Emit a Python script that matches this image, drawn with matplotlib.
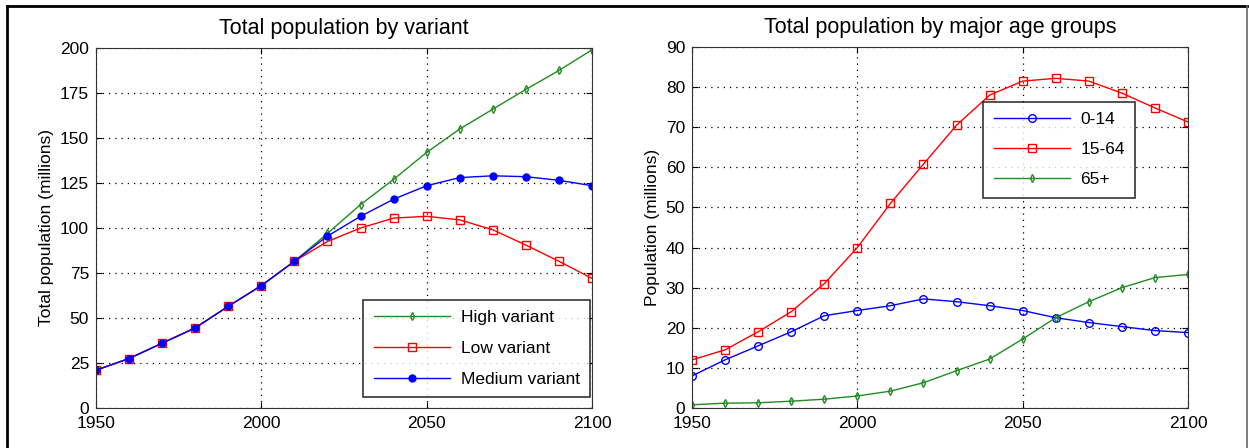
import matplotlib
matplotlib.use("Agg")
import matplotlib.pyplot as plt
from matplotlib.lines import Line2D

plt.rcParams.update({'font.size': 12.5, 'font.family': ['Liberation Sans', 'DejaVu Sans']})

years = [1950, 1960, 1970, 1980, 1990, 2000, 2010, 2020, 2030,
         2040, 2050, 2060, 2070, 2080, 2090, 2100]

# total population by variant (millions)
high_variant = [21, 27.5, 36, 44.5, 56.5, 68, 81.5, 97, 113,
                127, 142, 155, 166, 177, 187.5, 199]
low_variant = [21, 27.5, 36, 44.5, 56.5, 68, 81.5, 92.5, 100,
               105.5, 106.5, 104.5, 99, 90.5, 81.5, 72]
medium_variant = [21, 27.5, 36, 44.5, 56.5, 68, 81.5, 95.5, 106.5,
                  116, 123.5, 128, 129, 128.5, 126.5, 123.5]

# population by major age groups (millions)
age_0_14 = [8, 12, 15.5, 19, 23, 24.3, 25.5, 27.2, 26.5,
            25.5, 24.3, 22.5, 21.3, 20.3, 19.3, 18.8]
age_15_64 = [12, 14.5, 19, 24, 31, 40, 51, 60.8, 70.5,
             78, 81.5, 82.2, 81.5, 78.5, 74.8, 71.3]
age_65_plus = [0.8, 1.2, 1.3, 1.7, 2.2, 3, 4.2, 6.3, 9.3,
               12.2, 17.2, 22.5, 26.5, 30, 32.5, 33.3]

W, H = 1249, 448
fig = plt.figure(figsize=(W / 100, H / 100), dpi=100)

ax1 = fig.add_axes([96 / W, 1 - 408 / H, 496 / W, 360 / H])
ax2 = fig.add_axes([692 / W, 1 - 408 / H, 496 / W, 361 / H])

green = '#228B22'

ax1.plot(years, high_variant, color=green, lw=1, marker='d', ms=4,
         mfc='none', mec=green, label='High variant')
ax1.plot(years, low_variant, color='red', lw=1, marker='s', ms=6,
         mfc='none', mec='red', label='Low variant')
ax1.plot(years, medium_variant, color='blue', lw=1, marker='o', ms=5,
         mfc='blue', mec='blue', label='Medium variant')
ax1.set_ylim(0, 200)
ax1.set_yticks(range(0, 201, 25))
ax1.set_ylabel('Total population (millions)')
ax1.set_title('Total population by variant', fontsize=15.5, pad=10)
leg1 = ax1.legend(loc='lower right', bbox_to_anchor=(0.996, 0.03),
                  borderaxespad=0, handlelength=4.4, borderpad=0.6,
                  labelspacing=0.9, handletextpad=0.6)

ax2.plot(years, age_0_14, color='blue', lw=1, marker='o', ms=5.5,
         mfc='none', mec='blue', label='0-14')
ax2.plot(years, age_15_64, color='red', lw=1, marker='s', ms=6,
         mfc='none', mec='red', label='15-64')
ax2.plot(years, age_65_plus, color=green, lw=1, marker='d', ms=4,
         mfc='none', mec=green, label='65+')
ax2.set_ylim(0, 90)
ax2.set_yticks(range(0, 91, 10))
ax2.set_ylabel('Population (millions)')
ax2.set_title('Total population by major age groups', fontsize=15.5, pad=10)
leg2 = ax2.legend(loc='upper left', bbox_to_anchor=(0.587, 0.848),
                  borderaxespad=0, handlelength=4.4, borderpad=0.6,
                  labelspacing=0.85, handletextpad=0.6)

for ax, leg in ((ax1, leg1), (ax2, leg2)):
    ax.set_xlim(1950, 2100)
    ax.set_xticks([1950, 2000, 2050, 2100])
    ax.grid(True, color='black', linestyle=(0, (1, 4)), linewidth=0.9)
    ax.tick_params(direction='in', top=True, right=True, length=4)
    ax.tick_params(axis='x', pad=6)
    ax.tick_params(axis='y', pad=5)
    for s in ax.spines.values():
        s.set_color('#333333')
    f = leg.get_frame()
    f.set_edgecolor('black')
    f.set_linewidth(1.2)
    f.set_boxstyle('square', pad=0)
    leg.set_zorder(5)

# outer frame around the figure
fig.add_artist(Line2D([7 / W, 7 / W], [0, 1 - 6 / H], color='black', lw=2))
fig.add_artist(Line2D([7 / W, 1247 / W], [1 - 6 / H, 1 - 6 / H], color='black', lw=2))
fig.add_artist(Line2D([1247 / W, 1247 / W], [0, 1 - 6 / H], color='#666666', lw=1.2))

fig.savefig('out.png', dpi=100)
